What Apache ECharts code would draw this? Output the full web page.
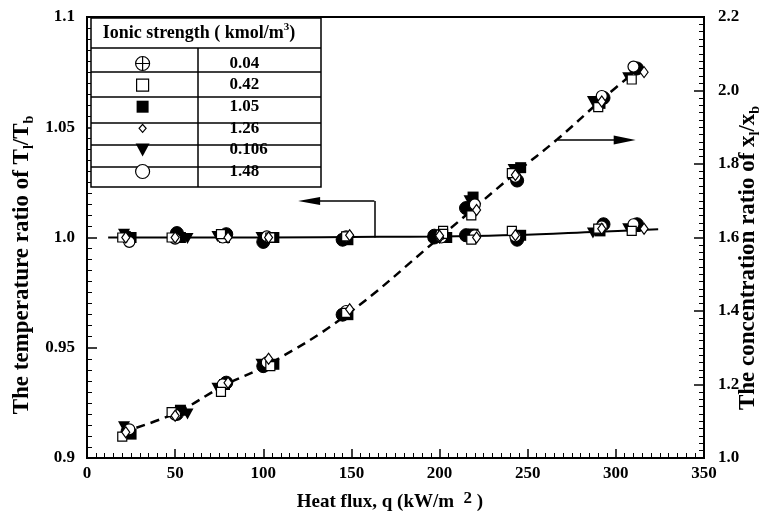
<!DOCTYPE html>
<html>
<head>
<meta charset="utf-8">
<script src="https://cdn.jsdelivr.net/npm/echarts@6/dist/echarts.min.js"></script>
<style>
  html, body { margin: 0; padding: 0; background: #fff; }
  #chart { width: 760px; height: 518px; }
</style>
</head>
<body>
<div id="chart"></div>
<script>
// Ionic strength groups (kmol/m^3), in table order
const ionicStrengths = ['0.04', '0.42', '1.05', '1.26', '0.106', '1.48'];

// Heat flux q (kW/m^2) for each group
const q004  = [23, 51, 79, 100, 145, 197, 215, 244, 293, 312];
const q042  = [20, 48, 76, 104, 147, 202, 218, 241, 290, 309];
const q105  = [25, 53, 78, 106, 148, 204, 219, 246, 291, 311];
const q126  = [22, 50, 80, 103, 149, 200, 221, 243, 292, 316];
const q0106 = [21, 57, 74,  99, 146, 199, 217, 242, 287, 307];
const q148  = [24, 50, 77, 102, 147, 201, 220, 243, 292, 310];

// Temperature ratio T_l/T_b (left axis)
const tr004  = [1.000, 1.002, 1.0015, 0.998, 0.999, 1.000, 1.001, 0.999, 1.006, 1.006];
const tr042  = [1.000, 1.000, 1.0015, 1.000, 1.0005, 1.003, 0.999, 1.003, 1.004, 1.003];
const tr105  = [1.000, 1.000, 1.000, 1.000, 0.999, 1.000, 1.0015, 1.001, 1.003, 1.005];
const tr126  = [1.000, 1.000, 1.000, 1.000, 1.001, 1.000, 1.000, 1.001, 1.004, 1.004];
const tr0106 = [1.0015, 0.9995, 1.0005, 1.000, 0.999, 1.000, 1.0015, 1.0005, 1.002, 1.004];
const tr148  = [0.998, 0.9995, 1.000, 1.0005, 1.0005, 1.000, 1.001, 1.0005, 1.005, 1.006];

// Concentration ratio x_l/x_b (right axis)
const cr004  = [1.072, 1.120, 1.205, 1.250, 1.390, 1.605, 1.680, 1.755, 1.980, 2.060];
const cr042  = [1.058, 1.125, 1.180, 1.250, 1.395, 1.610, 1.660, 1.775, 1.955, 2.030];
const cr105  = [1.065, 1.130, 1.200, 1.255, 1.390, 1.600, 1.710, 1.790, 1.965, 2.060];
const cr126  = [1.070, 1.115, 1.205, 1.270, 1.405, 1.605, 1.675, 1.770, 1.970, 2.050];
const cr0106 = [1.085, 1.120, 1.190, 1.255, 1.390, 1.600, 1.700, 1.785, 1.970, 2.035];
const cr148  = [1.078, 1.118, 1.200, 1.260, 1.400, 1.610, 1.690, 1.765, 1.985, 2.065];

// Fitted trend curves
const fitTempQ = [12, 100, 166, 200, 243, 290, 324];
const fitTempRatio = [1.000, 1.000, 1.0003, 1.0005, 1.0011, 1.0026, 1.0037];
const fitConcQ = [20, 50, 78, 103, 146, 200, 243, 267, 292, 316];
const fitConcRatio = [1.070, 1.122, 1.198, 1.255, 1.385, 1.600, 1.775, 1.868, 1.975, 2.072];

// Axis tick values
const xTicks = { min: 0, max: 350, step: 50 };
const leftTicks = { min: 0.9, max: 1.1, step: 0.05 };
const rightTicks = { min: 1.0, max: 2.2, step: 0.2 };

const FONT = '"Liberation Serif", "Times New Roman", serif';
const zip = (xs, ys) => xs.map((x, i) => [x, ys[i]]);

// Marker shapes
const circlePlus = 'path://M20,10 A10,10 0 1 1 0,10 A10,10 0 1 1 20,10 Z M10,0 L10,20 M0,10 L20,10';
const triDown = 'path://M0,0 L12,0 L6,11 Z';
const smallDiamond = 'path://M0,0 M14,14 M7,3 L10.5,7 L7,11 L3.5,7 Z';
const arrowHead = 'path://M5,0 L10,22 L0,22 Z';

const groups = [
  { name: '0.04',  q: q004,  t: tr004,  c: cr004,  symbol: circlePlus, size: 13, fill: '#000', bw: 1 },
  { name: '1.05',  q: q105,  t: tr105,  c: cr105,  symbol: 'rect', size: 11, fill: '#000', bw: 0 },
  { name: '0.106', q: q0106, t: tr0106, c: cr0106, symbol: triDown, size: [12, 11], fill: '#000', bw: 0 },
  { name: '1.48',  q: q148,  t: tr148,  c: cr148,  symbol: 'circle', size: 11, fill: '#fff', bw: 1.2 },
  { name: '0.42',  q: q042,  t: tr042,  c: cr042,  symbol: 'rect', size: 9, fill: '#fff', bw: 1.2 },
  { name: '1.26',  q: q126,  t: tr126,  c: cr126,  symbol: 'diamond', size: [8, 11], fill: '#fff', bw: 1.2 }
];

const series = [];

// Fitted curves with direction arrows
series.push({
  name: 'temperature fit', type: 'line', xAxisIndex: 0, yAxisIndex: 0,
  data: zip(fitTempQ, fitTempRatio), smooth: 0.4, showSymbol: false, silent: true,
  lineStyle: { color: '#000', width: 2 }, z: 1,
  markLine: {
    silent: true, symbol: ['none', 'none'], label: { show: false },
    lineStyle: { color: '#000', width: 1.5, type: 'solid' },
    data: [
      [{ coord: [163, 1.0] }, { coord: [163, 1.0166] }],
      [{ coord: [163, 1.0166] }, { coord: [126, 1.0166], symbol: arrowHead, symbolSize: [8, 22] }]
    ]
  }
});
series.push({
  name: 'concentration fit', type: 'line', xAxisIndex: 0, yAxisIndex: 1,
  data: zip(fitConcQ, fitConcRatio), smooth: 0.4, showSymbol: false, silent: true,
  lineStyle: { color: '#000', width: 2.5, type: [9, 6] }, z: 1,
  markLine: {
    silent: true, symbol: ['none', 'none'], label: { show: false },
    lineStyle: { color: '#000', width: 1.5, type: 'solid' },
    data: [
      [{ coord: [267, 1.865] }, { coord: [305, 1.865], symbol: arrowHead, symbolSize: [9, 22] }]
    ]
  }
});

groups.forEach((g, gi) => {
  const common = {
    name: g.name, type: 'scatter', xAxisIndex: 0,
    symbol: g.symbol, symbolSize: g.size,
    itemStyle: { color: g.fill, borderColor: '#000', borderWidth: g.bw, opacity: 1 },
    z: 2 + gi
  };
  series.push(Object.assign({}, common, { yAxisIndex: 0, data: zip(g.q, g.t) }));
  series.push(Object.assign({}, common, { yAxisIndex: 1, data: zip(g.q, g.c) }));
});

const legendIcons = {
  '0.04':  { icon: circlePlus, itemStyle: { color: '#fff', borderColor: '#000', borderWidth: 1.2 } },
  '0.42':  { icon: 'path://M0,0 M14,14 M1,1 L13,1 L13,13 L1,13 Z', itemStyle: { color: '#fff', borderColor: '#000', borderWidth: 1.2 } },
  '1.05':  { icon: 'path://M0,0 M14,14 M1,1 L13,1 L13,13 L1,13 Z', itemStyle: { color: '#000', borderColor: '#000', borderWidth: 0 } },
  '1.26':  { icon: smallDiamond, itemStyle: { color: '#fff', borderColor: '#000', borderWidth: 1.2 } },
  '0.106': { icon: 'path://M0,0 L14,0 L7,13 Z', itemStyle: { color: '#000', borderColor: '#000', borderWidth: 0 } },
  '1.48':  { icon: 'circle', itemStyle: { color: '#fff', borderColor: '#000', borderWidth: 1.2 } }
};
const legendData = ionicStrengths.map(n => Object.assign({ name: n }, legendIcons[n]));

const fmtLeft = v => (+v).toFixed(2).replace(/0$/, '');
const axisText = { fontFamily: FONT, fontWeight: 'bold', fontSize: 17, color: '#000' };
const axisLineStyle = { show: true, lineStyle: { color: '#000', width: 2 } };

// Table frame behind the legend
const tableRows = [48, 72, 97, 123, 145, 167];
const tableGraphics = [
  { type: 'rect', shape: { x: 91, y: 18, width: 230, height: 169 }, style: { fill: '#fff', stroke: '#000', lineWidth: 1.5 }, z: 5 },
  { type: 'line', shape: { x1: 198, y1: 48, x2: 198, y2: 187 }, style: { stroke: '#000', lineWidth: 1.5 }, z: 6 }
].concat(tableRows.map(y => ({
  type: 'line', shape: { x1: 91, y1: y, x2: 321, y2: y }, style: { stroke: '#000', lineWidth: 1.5 }, z: 6
})));

const titleRich = {
  m: { fontFamily: FONT, fontWeight: 'bold', fontSize: 23, fill: '#000', lineHeight: 28, verticalAlign: 'middle' },
  sub: { fontFamily: FONT, fontWeight: 'bold', fontSize: 14, fill: '#000', lineHeight: 28, verticalAlign: 'bottom' }
};

const option = {
  animation: false,
  backgroundColor: '#fff',
  grid: { left: 87, right: 56, top: 17, bottom: 60, show: true, borderColor: '#000', borderWidth: 2, backgroundColor: 'transparent' },
  xAxis: {
    type: 'value', min: xTicks.min, max: xTicks.max, interval: xTicks.step,
    axisLine: axisLineStyle,
    axisTick: { inside: true, length: 9, lineStyle: { color: '#000', width: 1.5 } },
    minorTick: { show: true, splitNumber: 10, length: 5, lineStyle: { color: '#000', width: 1 } },
    axisLabel: Object.assign({ margin: 7 }, axisText),
    splitLine: { show: false }
  },
  yAxis: [
    {
      type: 'value', position: 'left', min: leftTicks.min, max: leftTicks.max, interval: leftTicks.step,
      axisLine: axisLineStyle,
      axisTick: { inside: true, length: 10, lineStyle: { color: '#000', width: 1.5 } },
      minorTick: { show: true, splitNumber: 10, length: 5, lineStyle: { color: '#000', width: 1 } },
      axisLabel: Object.assign({ margin: 12, formatter: fmtLeft }, axisText),
      splitLine: { show: false }
    },
    {
      type: 'value', position: 'right', min: rightTicks.min, max: rightTicks.max, interval: rightTicks.step,
      axisLine: axisLineStyle,
      axisTick: { inside: true, length: 10, lineStyle: { color: '#000', width: 1.5 } },
      minorTick: { show: true, splitNumber: 10, length: 5, lineStyle: { color: '#000', width: 1 } },
      axisLabel: Object.assign({ margin: 14, formatter: v => (+v).toFixed(1) }, axisText),
      splitLine: { show: false }
    }
  ],
  legend: {
    orient: 'vertical', left: 135, top: 55, padding: 0,
    itemWidth: 14, itemHeight: 14, itemGap: 4.6,
    selectedMode: false, data: legendData, z: 10,
    formatter: name => '{v|' + name + '}',
    textStyle: {
      rich: { v: { fontFamily: FONT, fontWeight: 'bold', fontSize: 17, color: '#000', lineHeight: 18, padding: [0, 0, 0, 75] } }
    }
  },
  graphic: tableGraphics.concat([
    {
      type: 'text', x: 199, y: 33, z: 10,
      style: {
        text: '{m|Ionic strength ( kmol/m}{sup|3}{m|)}', align: 'center', verticalAlign: 'middle',
        rich: {
          m: { fontFamily: FONT, fontWeight: 'bold', fontSize: 18, fill: '#000', lineHeight: 22, verticalAlign: 'middle' },
          sup: { fontFamily: FONT, fontWeight: 'bold', fontSize: 11, fill: '#000', lineHeight: 22, verticalAlign: 'top' }
        }
      }
    },
    {
      type: 'text', x: 22, y: 265, rotation: Math.PI / 2, z: 10,
      style: { text: '{m|The temperature ratio of T}{sub|l}{m|/T}{sub|b}', align: 'center', verticalAlign: 'middle', rich: titleRich }
    },
    {
      type: 'text', x: 748, y: 258, rotation: Math.PI / 2, z: 10,
      style: { text: '{m|The concentration ratio of x}{sub|l}{m|/x}{sub|b}', align: 'center', verticalAlign: 'middle', rich: titleRich }
    },
    {
      type: 'text', x: 390, y: 502, z: 10,
      style: {
        text: '{m|Heat flux, q (kW/m  }{sup|2}{m| )}', align: 'center', verticalAlign: 'middle',
        rich: {
          m: { fontFamily: FONT, fontWeight: 'bold', fontSize: 19, fill: '#000', lineHeight: 24, verticalAlign: 'middle' },
          sup: { fontFamily: FONT, fontWeight: 'bold', fontSize: 17, fill: '#000', lineHeight: 24, verticalAlign: 'top' }
        }
      }
    }
  ]),
  series: series
};

const chart = echarts.init(document.getElementById('chart'), null, { renderer: 'canvas' });
chart.setOption(option);
</script>
</body>
</html>
